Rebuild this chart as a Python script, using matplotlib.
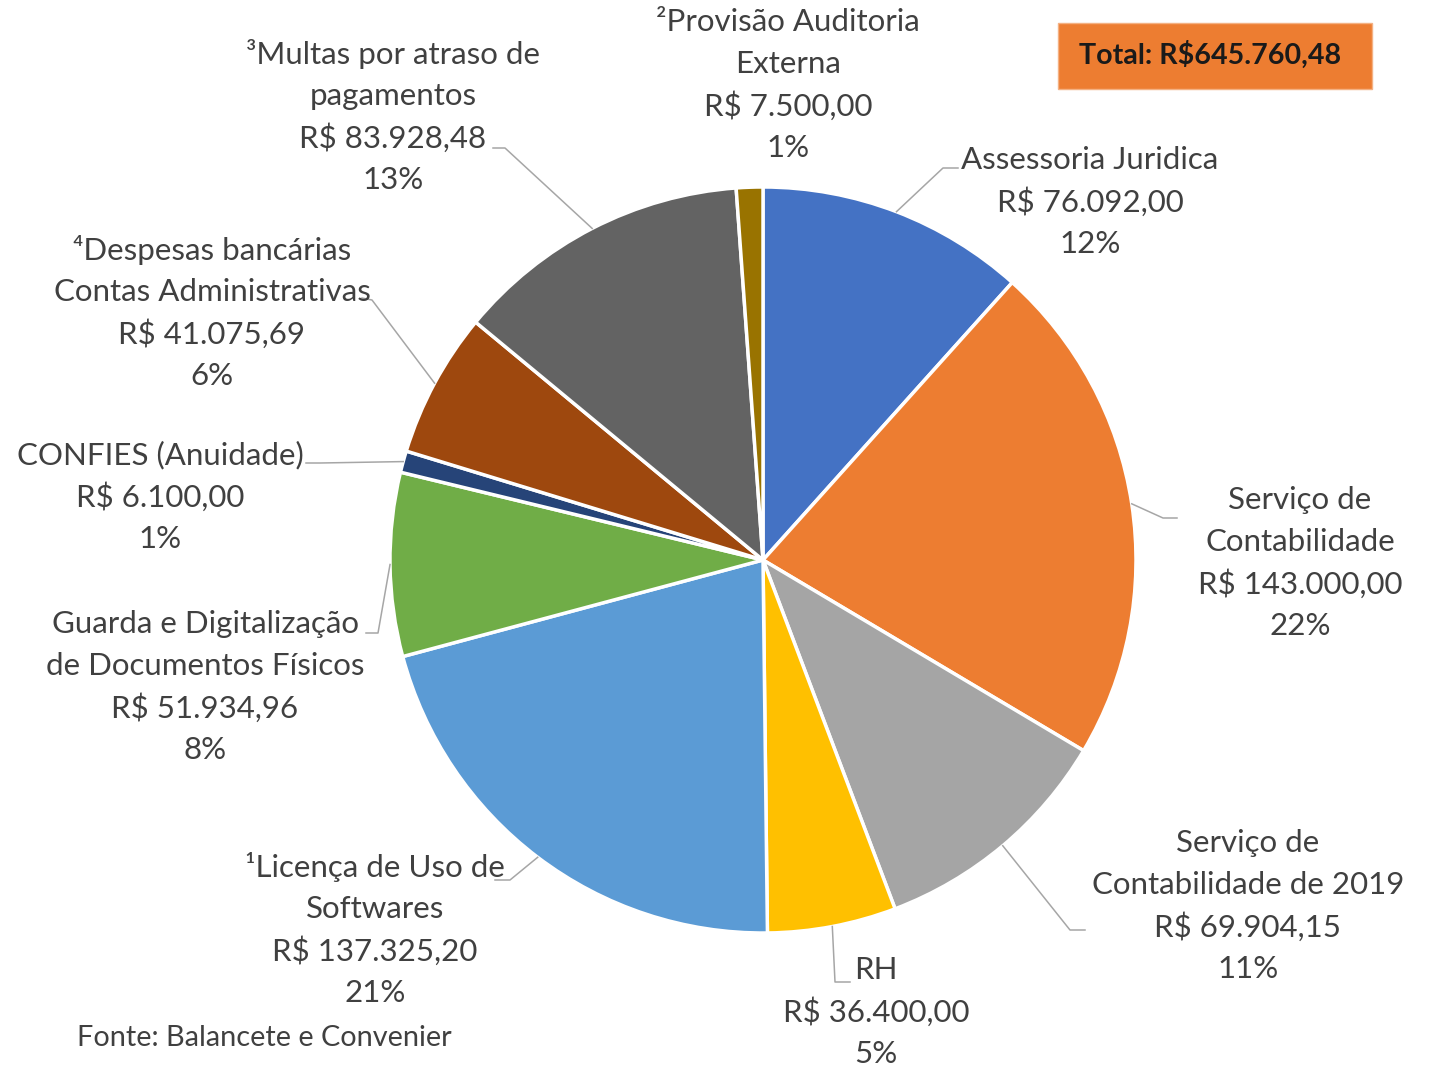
import matplotlib
matplotlib.use("Agg")
import matplotlib.pyplot as plt
import numpy as np
from matplotlib.patches import Rectangle

plt.rcParams['font.family'] = ['Lato', 'DejaVu Sans']

# data
names = ["Assessoria Juridica", "Serviço de\nContabilidade", "Serviço de\nContabilidade de 2019",
         "RH", "¹Licença de Uso de\nSoftwares", "Guarda e Digitalização\nde Documentos Físicos",
         "CONFIES (Anuidade)", "⁴Despesas bancárias\nContas Administrativas",
         "³Multas por atraso de\npagamentos", "²Provisão Auditoria\nExterna"]
values = [76092.00, 143000.00, 69904.15, 36400.00, 137325.20, 51934.96,
          6100.00, 41075.69, 83928.48, 7500.00]
percents = [12, 22, 11, 5, 21, 8, 1, 6, 13, 1]
colors = ["#4472C4", "#ED7D31", "#A5A5A5", "#FFC000", "#5B9BD5", "#70AD47",
          "#264478", "#9E480E", "#636363", "#997300"]

W, H = 1431, 1067
cx, cy, R = 763, 560, 373
TXT = "#404040"
FS = 22.5

# label placement: centre x, first line y (pixels from top)
label_pos = [(1090, 160), (1300, 500), (1248, 843), (876, 970), (375, 867),
             (205, 624), (160, 455), (212, 250), (393, 54), (788, 22)]
# leader: elbow point and end near the text, None = no leader
leaders = [((943, 168), (958, 168)), ((1163, 518), (1177, 518)), ((1070, 930), (1085, 930)),
           ((835, 982), (850, 982)), ((510, 880), (495, 880)), ((378, 633), (366, 633)),
           ((320, 463), (306, 463)), ((372, 300), (362, 298)), ((505, 148), (493, 148)), None]


def fmt(v):
    s = f"{v:,.2f}"
    return "R$ " + s.replace(",", "X").replace(".", ",").replace("X", ".")


fig = plt.figure(figsize=(W / 100, H / 100), dpi=100)
ax = fig.add_axes([0, 0, 1, 1])

wedges, _ = ax.pie(values, colors=colors, startangle=90, counterclock=False,
                   center=(cx, H - cy), radius=R,
                   wedgeprops=dict(edgecolor="white", linewidth=2.5))
ax.set_xlim(0, W)
ax.set_ylim(0, H)
ax.set_aspect("auto")
ax.axis("off")

for i, w in enumerate(wedges):
    mid = np.deg2rad((w.theta1 + w.theta2) / 2)
    ex, ey = cx + R * np.cos(mid), (H - cy) + R * np.sin(mid)
    if leaders[i] is not None:
        (bx, by), (tx, ty) = leaders[i]
        ax.plot([ex, bx, tx], [ey, H - by, H - ty], color="#A6A6A6", lw=1.1, zorder=1)
    lines = names[i].split("\n") + [fmt(values[i]), f"{percents[i]}%"]
    x0, y0 = label_pos[i]
    for k, ln in enumerate(lines):
        ax.text(x0, H - (y0 + 42 * k), ln, ha="center", va="center",
                fontsize=FS, color=TXT)

ax.add_patch(Rectangle((1058, H - 89), 314, 66, facecolor="#ED7D31",
                       edgecolor="#F4B183", lw=1))
ax.text(1210, H - 55, "Total: R$645.760,48", ha="center", va="center",
        fontsize=20.6, fontweight="bold", color="#1a1a1a")

ax.text(77, H - 1038, "Fonte: Balancete e Convenier", ha="left", va="center",
        fontsize=20.8, color=TXT)

fig.savefig("out.png", dpi=100)
